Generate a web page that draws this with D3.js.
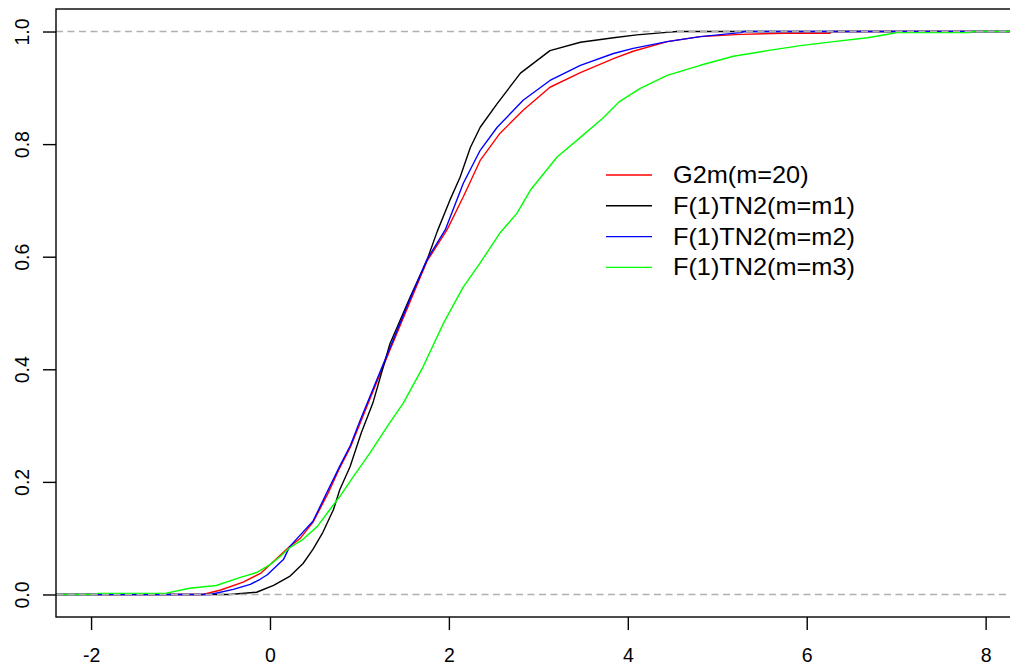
<!DOCTYPE html>
<html>
<head>
<meta charset="utf-8">
<script src="https://cdn.jsdelivr.net/npm/d3@7"></script>
<style>
  html, body { margin: 0; padding: 0; background: #fff; }
  svg { display: block; font-family: "Liberation Sans", Arial, sans-serif; }
</style>
</head>
<body>
<svg id="chart" width="1010" height="668"></svg>
<script>
// ---- Data ----
const seriesNames = ["G2m(m=20)", "F(1)TN2(m=m1)", "F(1)TN2(m=m2)", "F(1)TN2(m=m3)"];
const seriesColors = ["#ff0000", "#000000", "#0000ff", "#00ff00"];

const g2mX = [-0.75, -0.55, -0.3, -0.1, 0.0, 0.22, 0.34, 0.48, 0.65, 0.78, 0.9, 1.01, 1.15, 1.34, 1.566, 1.755, 1.98, 2.16, 2.35, 2.57, 2.83, 3.13, 3.47, 3.84, 4.06, 4.44, 4.81, 5.26, 5.74, 6.26, 6.27];
const g2mP = [0.0, 0.008, 0.022, 0.038, 0.053, 0.085, 0.10, 0.128, 0.18, 0.225, 0.262, 0.305, 0.36, 0.434, 0.52, 0.592, 0.648, 0.706, 0.771, 0.819, 0.860, 0.901, 0.927, 0.952, 0.965, 0.982, 0.991, 0.995, 0.997, 0.997, 1.0];

const m1X = [-0.45, -0.15, 0.04, 0.22, 0.37, 0.48, 0.59, 0.71, 0.78, 0.895, 1.02, 1.15, 1.34, 1.566, 1.755, 1.87, 2.01, 2.125, 2.24, 2.35, 2.54, 2.80, 3.13, 3.47, 3.84, 4.10, 4.40, 4.55];
const m1P = [0.0, 0.004, 0.016, 0.032, 0.055, 0.080, 0.110, 0.151, 0.186, 0.227, 0.287, 0.34, 0.445, 0.528, 0.594, 0.645, 0.70, 0.741, 0.794, 0.830, 0.872, 0.926, 0.966, 0.981, 0.989, 0.994, 0.998, 1.0];

const m2X = [-0.67, -0.41, -0.22, -0.11, -0.03, 0.15, 0.22, 0.48, 0.78, 0.9, 1.01, 1.34, 1.566, 1.755, 1.96, 2.16, 2.35, 2.54, 2.83, 3.13, 3.47, 3.84, 4.06, 4.44, 4.81, 5.26, 5.3];
const m2P = [0.0, 0.009, 0.018, 0.027, 0.035, 0.062, 0.085, 0.13, 0.228, 0.265, 0.31, 0.438, 0.525, 0.595, 0.648, 0.73, 0.789, 0.83, 0.878, 0.913, 0.94, 0.961, 0.97, 0.982, 0.991, 0.998, 1.0];

const m3X = [-1.94, -1.93, -1.17, -0.9, -0.6, -0.34, -0.15, 0.0, 0.11, 0.22, 0.37, 0.53, 0.67, 0.78, 0.93, 1.12, 1.31, 1.49, 1.71, 1.94, 2.16, 2.35, 2.57, 2.76, 2.91, 3.21, 3.47, 3.72, 3.91, 4.14, 4.44, 4.81, 5.18, 5.56, 5.93, 6.30, 6.68, 6.94, 7.01, 7.83, 7.84];
const m3P = [0.0, 0.002, 0.002, 0.011, 0.016, 0.030, 0.039, 0.053, 0.067, 0.083, 0.098, 0.121, 0.151, 0.174, 0.209, 0.252, 0.298, 0.34, 0.404, 0.482, 0.546, 0.589, 0.642, 0.677, 0.718, 0.777, 0.812, 0.846, 0.876, 0.899, 0.922, 0.94, 0.956, 0.966, 0.975, 0.982, 0.989, 0.996, 0.998, 0.998, 1.0];

const xTicks = [-2, 0, 2, 4, 6, 8];
const xTickLabels = ["-2", "0", "2", "4", "6", "8"];
const yTicks = [0.0, 0.2, 0.4, 0.6, 0.8, 1.0];
const yTickLabels = ["0.0", "0.2", "0.4", "0.6", "0.8", "1.0"];
const refLevels = [0, 1];

// ---- Layout ----
const svg = d3.select("#chart");
const plot = { left: 56, right: 1013, top: 9, bottom: 617 };

const x = d3.scaleLinear().domain([-2.392, 8.306]).range([plot.left, plot.right]);
const y = d3.scaleLinear().domain([-0.04, 1.04]).range([plot.bottom, plot.top]);

svg.append("defs").append("clipPath").attr("id", "clip")
  .append("rect")
  .attr("x", plot.left).attr("y", plot.top)
  .attr("width", plot.right - plot.left).attr("height", plot.bottom - plot.top);

const series = [
  { xs: g2mX, ps: g2mP },
  { xs: m1X, ps: m1P },
  { xs: m2X, ps: m2P },
  { xs: m3X, ps: m3P }
];

const line = d3.line().x(d => x(d[0])).y(d => y(d[1])).curve(d3.curveLinear);
const [xMin, xMax] = x.domain();

const gLines = svg.append("g").attr("clip-path", "url(#clip)");
series.forEach((s, i) => {
  const pts = s.xs.map((v, k) => [v, s.ps[k]]);
  pts.unshift([xMin, 0]);
  pts.push([xMax, 1]);
  gLines.append("path")
    .attr("d", line(pts))
    .attr("fill", "none")
    .attr("stroke", seriesColors[i])
    .attr("stroke-width", 1.4)
    .attr("stroke-linejoin", "round");
});

// gray dashed reference lines at 0 and 1 (drawn on top)
gLines.selectAll("line.ref").data(refLevels).enter().append("line")
  .attr("class", "ref")
  .attr("x1", plot.left).attr("x2", plot.right)
  .attr("y1", d => y(d)).attr("y2", d => y(d))
  .attr("stroke", "#b0b0b0")
  .attr("stroke-width", 1.4)
  .attr("stroke-dasharray", "7,4.5");

// ---- Box ----
svg.append("rect")
  .attr("x", plot.left).attr("y", plot.top)
  .attr("width", plot.right - plot.left).attr("height", plot.bottom - plot.top)
  .attr("fill", "none").attr("stroke", "#000").attr("stroke-width", 1.4);

// ---- Axes ----
const xAxis = d3.axisBottom(x).tickValues(xTicks).tickSize(13).tickPadding(18)
  .tickFormat((d, i) => xTickLabels[i]);
const gx = svg.append("g").attr("transform", `translate(0,${plot.bottom})`).call(xAxis);
gx.select(".domain").remove();
gx.selectAll(".tick line").attr("stroke", "#000").attr("stroke-width", 1.4);
gx.selectAll(".tick text")
  .attr("fill", "#000")
  .style("font-size", "19.5px")
  .style("font-family", "'Liberation Sans', Arial, sans-serif");

const yAxis = d3.axisLeft(y).tickValues(yTicks).tickSize(13).tickFormat((d, i) => yTickLabels[i]);
const gy = svg.append("g").attr("transform", `translate(${plot.left},0)`).call(yAxis);
gy.select(".domain").remove();
gy.selectAll(".tick line").attr("stroke", "#000").attr("stroke-width", 1.4);
gy.selectAll(".tick text")
  .attr("fill", "#000")
  .attr("x", null).attr("dy", null)
  .attr("text-anchor", "middle")
  .attr("transform", "translate(-27,0) rotate(-90)")
  .style("font-size", "19.5px")
  .style("font-family", "'Liberation Sans', Arial, sans-serif");

// ---- Legend ----
const legend = svg.append("g").attr("transform", "translate(606,175)");
seriesNames.forEach((name, i) => {
  const row = legend.append("g").attr("transform", `translate(0,${i * 30.8})`);
  row.append("line").attr("x1", 0).attr("x2", 46).attr("y1", 0).attr("y2", 0)
    .attr("stroke", seriesColors[i]).attr("stroke-width", 1.4);
  row.append("text")
    .attr("transform", "translate(67,8) scale(1.1,1)")
    .style("font-size", "23px")
    .attr("fill", "#000")
    .text(name);
});
</script>
</body>
</html>
